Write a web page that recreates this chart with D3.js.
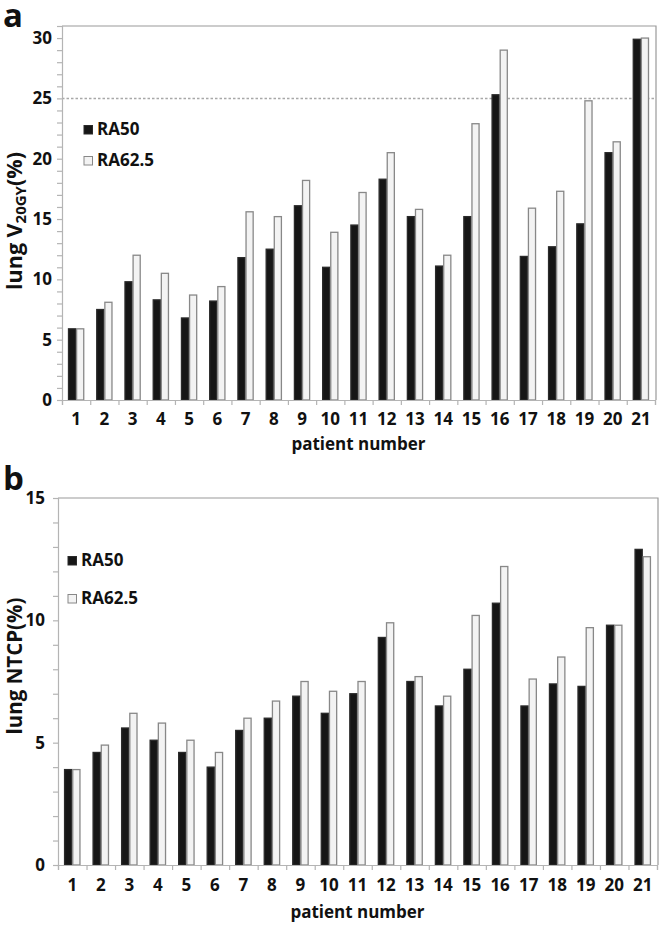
<!DOCTYPE html>
<html>
<head>
<meta charset="utf-8">
<script src="https://cdn.jsdelivr.net/npm/d3@7"></script>
<style>
  html, body { margin: 0; padding: 0; background: #fff; }
  svg { display: block; }
  text { font-family: "Open Sans", "Noto Sans", sans-serif; font-weight: 700; fill: #111; }
</style>
</head>
<body>
<svg id="chart" width="661" height="925"></svg>
<script>
// ---------- data ----------
const patients = ["1","2","3","4","5","6","7","8","9","10","11","12","13","14","15","16","17","18","19","20","21"];
const seriesNames = ["RA50", "RA62.5"];

// panel a: lung V20GY (%)
const v20RA50   = [5.9, 7.5, 9.8, 8.3, 6.8, 8.2, 11.8, 12.5, 16.1, 11.0, 14.5, 18.3, 15.2, 11.1, 15.2, 25.3, 11.9, 12.7, 14.6, 20.5, 29.9];
const v20RA625  = [5.9, 8.1, 12.0, 10.5, 8.7, 9.4, 15.6, 15.2, 18.2, 13.9, 17.2, 20.5, 15.8, 12.0, 22.9, 29.0, 15.9, 17.3, 24.8, 21.4, 30.0];
const v20Ticks  = [0, 5, 10, 15, 20, 25, 30];
const v20Max    = 31;
const v20Limit  = 25;

// panel b: lung NTCP (%)
const ntcpRA50  = [3.9, 4.6, 5.6, 5.1, 4.6, 4.0, 5.5, 6.0, 6.9, 6.2, 7.0, 9.3, 7.5, 6.5, 8.0, 10.7, 6.5, 7.4, 7.3, 9.8, 12.9];
const ntcpRA625 = [3.9, 4.9, 6.2, 5.8, 5.1, 4.6, 6.0, 6.7, 7.5, 7.1, 7.5, 9.9, 7.7, 6.9, 10.2, 12.2, 7.6, 8.5, 9.7, 9.8, 12.6];
const ntcpTicks = [0, 5, 10, 15];
const ntcpMax   = 15;

const xTitle = "patient number";

// ---------- drawing ----------
const svg = d3.select("#chart");
const GRAY = "#b4b4b4";
const FRAME = "#9a9a9a";

function drawPanel(cfg) {
  const g = svg.append("g");
  const x = d3.scaleBand().domain(patients).range([cfg.left, cfg.right]).padding(0);
  const xs = d3.scaleBand().domain(seriesNames).range([0, x.bandwidth()]).paddingInner(0).paddingOuter(0.74);
  const xb = d3.scaleLinear().domain([0, patients.length]).range([cfg.left, cfg.right]);
  const y = d3.scaleLinear().domain([0, cfg.ymax]).range([cfg.bottom, cfg.top]);

  // frame (top + right)
  g.append("path")
    .attr("d", `M${cfg.left},${cfg.top}H${cfg.right + 1}V${cfg.bottom}`)
    .attr("fill", "none").attr("stroke", FRAME).attr("stroke-width", 1.2);

  // threshold line
  if (cfg.limit != null) {
    g.append("line")
      .attr("x1", cfg.left).attr("x2", cfg.right + 1)
      .attr("y1", y(cfg.limit)).attr("y2", y(cfg.limit))
      .attr("stroke", "#a8a8a8").attr("stroke-width", 1.5)
      .attr("stroke-dasharray", "2.5,2");
  }

  // bars
  const rows = patients.map((p, i) => ({ p, vals: [cfg.a[i], cfg.b[i]] }));
  const grp = g.selectAll(".grp").data(rows).join("g")
    .attr("transform", d => `translate(${x(d.p)},0)`);
  grp.selectAll("rect").data(d => d.vals.map((v, k) => ({ v, s: seriesNames[k] })))
    .join("rect")
    .attr("x", d => xs(d.s) + 0.5)
    .attr("width", xs.bandwidth() - 1)
    .attr("y", d => y(d.v))
    .attr("height", d => y(0) - y(d.v))
    .attr("fill", d => d.s === seriesNames[0] ? "#161616" : "#f3f3f3")
    .attr("stroke", d => d.s === seriesNames[0] ? "#2a2a2a" : "#888888")
    .attr("stroke-width", 1.3);

  // y axis
  const yAxis = d3.axisLeft(y)
    .tickValues(d3.range(0, cfg.ymax + 1))
    .tickSize(5).tickPadding(cfg.tickPad)
    .tickFormat(d => cfg.ticks.includes(d) ? d : "");
  const ya = g.append("g").attr("transform", `translate(${cfg.left},0)`).call(yAxis);
  ya.select(".domain").attr("stroke", GRAY).attr("stroke-width", 1.2);
  ya.selectAll(".tick line").attr("stroke", GRAY).attr("stroke-width", 1.2);
  ya.selectAll(".tick text").style("font-size", "17px").attr("fill", "#111");

  // x axis: boundary ticks
  const xAxisTicks = d3.axisBottom(xb).tickValues(d3.range(0, patients.length + 1))
    .tickSize(5).tickFormat("");
  const xa = g.append("g").attr("transform", `translate(0,${cfg.bottom})`).call(xAxisTicks);
  xa.select(".domain").attr("stroke", GRAY).attr("stroke-width", 1.2);
  xa.selectAll(".tick line").attr("stroke", GRAY).attr("stroke-width", 1.2);

  // x labels
  const xLab = d3.axisBottom(x).tickSize(0).tickPadding(cfg.xLabPad);
  const xl = g.append("g").attr("transform", `translate(0,${cfg.bottom})`).call(xLab);
  xl.select(".domain").remove();
  xl.selectAll(".tick text").style("font-size", "17px").attr("fill", "#111");

  // x title
  g.append("text")
    .attr("x", (cfg.left + cfg.right) / 2).attr("y", cfg.xTitleY)
    .attr("text-anchor", "middle").style("font-size", "17px")
    .text(xTitle);

  // y title
  const yt = g.append("text")
    .attr("transform", `translate(${cfg.yTitleX},${cfg.yTitleY}) rotate(-90)`)
    .attr("text-anchor", "middle").style("font-size", cfg.yTitleSize);
  cfg.yTitle(yt);

  // panel letter
  g.append("text").attr("x", 3).attr("y", cfg.letterY)
    .style("font-size", "33px").text(cfg.letter);

  // legend
  seriesNames.forEach((s, k) => {
    const ly = cfg.legY[k];
    g.append("rect")
      .attr("x", cfg.legX).attr("y", ly - 9.5).attr("width", 8.5).attr("height", 8.5)
      .attr("fill", k === 0 ? "#161616" : "#f3f3f3")
      .attr("stroke", k === 0 ? "#2a2a2a" : "#888888").attr("stroke-width", 1);
    g.append("text").attr("x", cfg.legX + 13).attr("y", ly)
      .style("font-size", "17px").text(s);
  });
}

drawPanel({
  left: 62, right: 655, top: 26, bottom: 400,
  ymax: v20Max, ticks: v20Ticks, a: v20RA50, b: v20RA625, limit: v20Limit,
  tickPad: 5, xLabPad: 13, xTitleY: 450,
  yTitleX: 22, yTitleY: 221, yTitleSize: "21.5px",
  yTitle: t => {
    t.append("tspan").text("lung V");
    t.append("tspan").attr("dy", 4).style("font-size", "15px").text("20GY");
    t.append("tspan").attr("dy", -4).text("(%)");
  },
  letter: "a", letterY: 27,
  legX: 84, legY: [135, 166]
});

drawPanel({
  left: 58, right: 657, top: 498, bottom: 865,
  ymax: ntcpMax, ticks: ntcpTicks, a: ntcpRA50, b: ntcpRA625, limit: null,
  tickPad: 8, xLabPad: 14, xTitleY: 918,
  yTitleX: 22, yTitleY: 666, yTitleSize: "20.5px",
  yTitle: t => { t.text("lung NTCP(%)"); },
  letter: "b", letterY: 490,
  legX: 68, legY: [566, 604]
});
</script>
</body>
</html>
